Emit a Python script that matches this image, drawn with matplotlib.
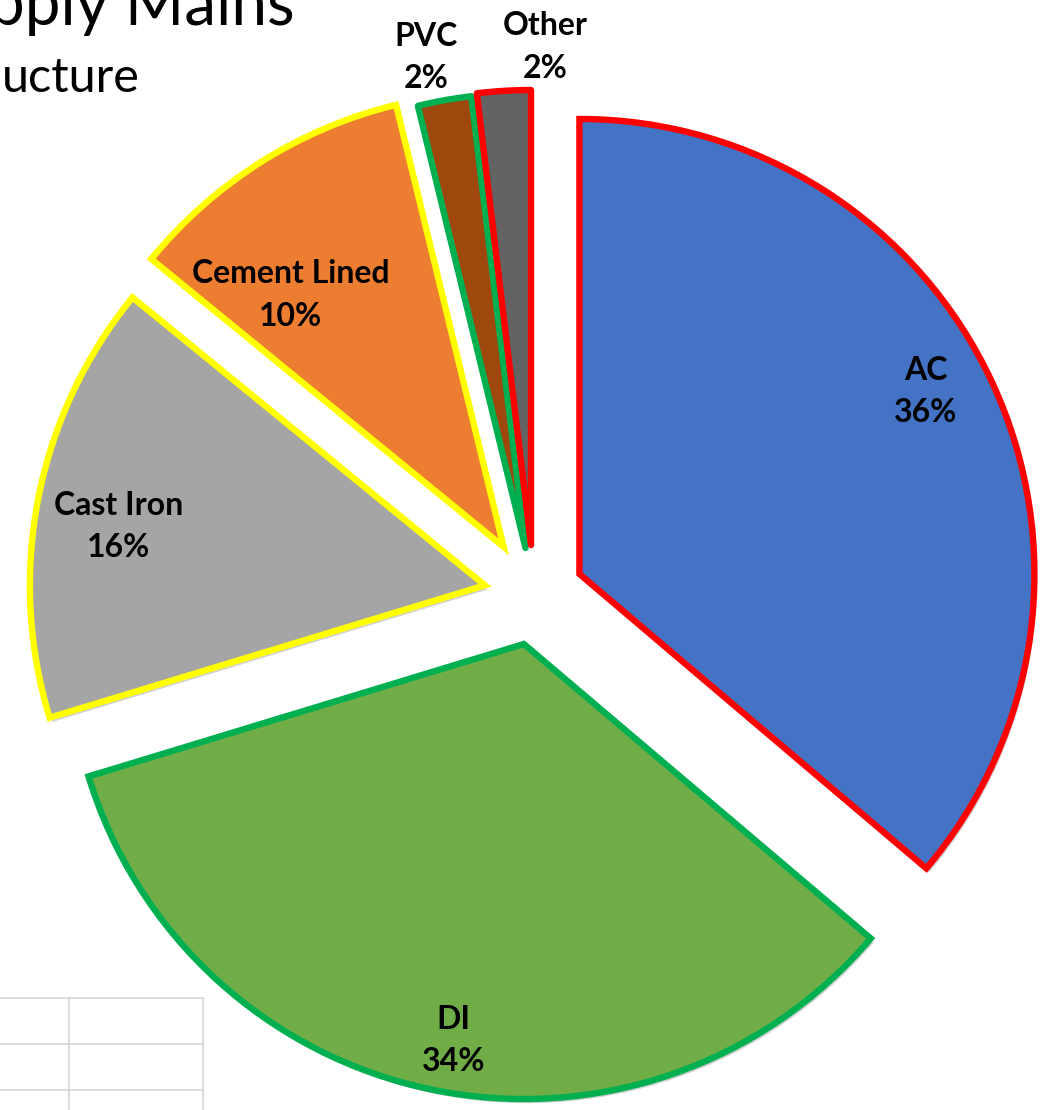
import matplotlib
matplotlib.use("Agg")
import matplotlib.pyplot as plt
import matplotlib.patheffects as pe
import numpy as np

# data (labels show rounded percentages)
names = ['AC', 'DI', 'Cast Iron', 'Cement Lined', 'PVC', 'Other']
shares = [36.2, 34.1, 15.6, 10.3, 1.9, 1.9]
face_colors = ['#4472C4', '#70AD47', '#A5A5A5', '#ED7D31', '#9E480E', '#636363']
edge_colors = ['#FF0000', '#00B050', '#FFFF00', '#FFFF00', '#00B050', '#FF0000']

W, H = 1063, 1110
R = 455
fig = plt.figure(figsize=(W / 100, H / 100), dpi=100)
ax = fig.add_axes([0, 0, 1, 1])

# bit of spreadsheet grid peeking in at the bottom left
grid_c = '#d6d6d6'
for yy in [998, 1044, 1090]:
    ax.plot([0, 203], [H - yy, H - yy], color=grid_c, lw=1.2, zorder=0)
for xx in [69, 203]:
    ax.plot([xx, xx], [H - 998, 0], color=grid_c, lw=1.2, zorder=0)

# pie explode is in data units, so scale the fractions by the radius
explode_frac = [0.11, 0.11, 0.11, 0.125, 0.105, 0.11]
wedges, _ = ax.pie(shares, startangle=90, counterclock=False,
                   center=(534, H - 595), radius=R,
                   explode=[e * R for e in explode_frac],
                   colors=face_colors, frame=True)
ax.set_xlim(0, W)
ax.set_ylim(0, H)
ax.set_aspect('equal')
ax.axis('off')

for w, ec in zip(wedges, edge_colors):
    w.set_edgecolor(ec)
    w.set_linewidth(4.6)
    w.set_joinstyle('miter')
    w.set_path_effects([pe.SimplePatchShadow(offset=(2, -3), shadow_rgbFace='k', alpha=0.18),
                        pe.Normal()])
wedges[4].set_joinstyle('round')
wedges[5].set_joinstyle('round')

# where each label sits, as fraction of radius and angle shift from the bisector
label_r = [0.86, 0.885, 0.815, 0.725, 1.10, 1.095]
label_dang = [3.0, 1.6, 2.0, 8.0, 1.2, -5.0]
total = sum(shares)
for w, name, val, lr, da in zip(wedges, names, shares, label_r, label_dang):
    ang = np.deg2rad((w.theta1 + w.theta2) / 2 + da)
    cx, cy = w.center
    tx = cx + lr * w.r * np.cos(ang)
    ty = cy + lr * w.r * np.sin(ang)
    ax.text(tx, ty, f"{name}\n{100 * val / total:.0f}%", ha='center', va='center',
            fontsize=23, fontweight='bold', family='Lato', linespacing=1.55,
            color='black')

# cropped title
ax.text(295, H - 25, "pply Mains", ha='right', va='baseline', fontsize=46,
        family='Lato', color='black')
ax.text(140, H - 92, "ucture", ha='right', va='baseline', fontsize=35,
        family='Lato', color='black')

fig.savefig('out.png', dpi=100)
